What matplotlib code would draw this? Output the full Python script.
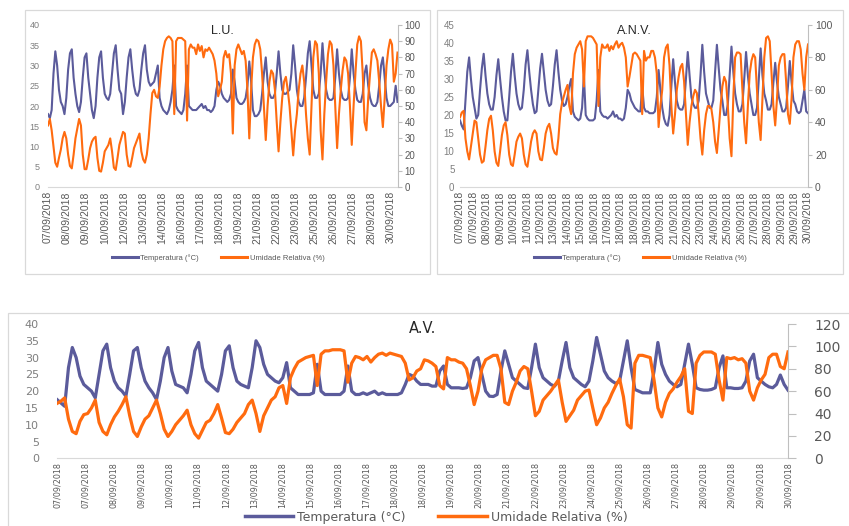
import numpy as np
import matplotlib.pyplot as plt
from matplotlib.patches import Rectangle
from matplotlib.lines import Line2D

W, H = 849, 526
BLUE = "#5b5b9b"
ORANGE = "#ff6b0f"

# readings every 3 h (8 per day), 07/09/2018 -> 30/09/2018
lu_temp = [
    [18, 17, 19, 28, 33.5, 30, 24, 21], [20, 18, 22, 29, 33, 34, 27, 23],
    [20, 18.5, 21, 27, 32, 33, 27, 23], [19, 17, 20, 27, 32, 33.5, 27, 23],
    [22, 21.5, 23, 28, 33, 35, 29, 24], [23, 18, 21, 27, 32, 34, 29, 25],
    [23, 22.5, 24, 29, 33, 35, 29, 26], [25, 25.5, 26, 28, 30, 22, 20, 19],
    [18.5, 18, 19, 21, 24, 30, 20, 19], [18.5, 18, 19, 23, 30, 20, 19.5, 19],
    [19, 19, 19.5, 20, 20.5, 19.5, 20, 19], [19, 18.5, 19, 20, 24, 26, 25, 23],
    [22, 21.5, 21, 21.5, 23, 29, 26, 22], [21, 20.5, 20.5, 21, 22, 25, 31, 26],
    [19, 17.5, 17.5, 18, 19, 23, 28, 32], [26, 23, 22, 22, 23, 28, 33.5, 28],
    [24, 23, 23, 23.5, 24, 28, 35, 30], [24, 21, 20, 20, 22, 27, 33, 36],
    [30, 24, 22, 22, 23, 28, 35.5, 29], [24, 22, 21.5, 21.5, 22, 27, 34, 28],
    [24, 22, 21.5, 21.5, 22, 27, 34, 28], [24, 21.5, 21, 21, 23, 28, 30, 25],
    [22, 20.5, 20, 20, 21, 25, 30, 32], [27, 22, 20, 20, 20.5, 21, 25, 21],
]
lu_rh = [
    [38, 42, 35, 25, 15, 12.5, 18, 23], [30, 34, 30, 20, 13, 11.5, 20, 30],
    [36, 42, 38, 20, 11, 11, 17, 24], [28, 30, 31, 18, 10, 9.5, 15, 22],
    [24, 26, 30, 22, 12, 10.5, 18, 26], [30, 34, 33, 20, 13, 12.5, 18, 24],
    [27, 30, 33, 22, 17, 15, 20, 30], [45, 58, 60, 56, 55, 62, 75, 85],
    [90, 92, 93, 92, 90, 45, 90, 92], [92, 92, 91, 90, 41, 85, 88, 86],
    [86, 82, 88, 84, 87, 80, 85, 84], [86, 84, 82, 78, 70, 56, 60, 65],
    [80, 84, 80, 82, 70, 33, 75, 85], [88, 85, 82, 84, 78, 60, 30, 60],
    [80, 88, 91, 90, 85, 70, 50, 29], [50, 65, 72, 70, 60, 40, 22, 40],
    [55, 65, 68, 60, 50, 35, 19.5, 35], [45, 60, 70, 75, 65, 45, 30, 20],
    [50, 80, 90, 88, 70, 35, 17, 45], [65, 82, 90, 88, 75, 50, 24, 45],
    [60, 72, 80, 78, 70, 50, 26, 50], [70, 88, 93, 90, 70, 40, 35, 55],
    [70, 83, 85, 82, 78, 65, 50, 37], [55, 75, 85, 91, 88, 65, 70, 83],
]
lu_dates = ["07/09/2018", "08/09/2018", "09/09/2018", "10/09/2018", "12/09/2018",
            "13/09/2018", "14/09/2018", "16/09/2018", "17/09/2018", "18/09/2018",
            "19/09/2018", "21/09/2018", "22/09/2018", "23/09/2018", "25/09/2018",
            "26/09/2018", "27/09/2018", "28/09/2018", "30/09/2018"]

anv_temp = [
    [18.5, 17, 16, 24, 32, 36, 30, 25], [22, 19, 20, 27, 33, 37, 31, 26],
    [23, 21.5, 21.5, 25, 31, 35.5, 30, 25], [21, 18.5, 18.5, 25, 32, 37, 31, 26],
    [23, 21.5, 22, 27, 34, 38, 32, 27], [23, 20.5, 21, 27, 33, 37, 32, 27],
    [24, 22.5, 23, 28, 34, 38, 32, 27], [24, 22.5, 23, 25, 28, 30, 21, 19.5],
    [19, 18.5, 19, 22, 31, 20, 19, 18.5], [18.5, 18.5, 19, 24, 32.5, 21, 20, 19.5],
    [19.5, 19, 19.5, 20, 21, 19.5, 20, 19], [19, 18.5, 19, 22, 27, 26, 24, 23],
    [22, 21.5, 21, 21, 28, 22, 21, 21], [20.5, 20.5, 20.5, 21, 25, 32.5, 27, 22],
    [19, 17.5, 17, 20, 28, 35.5, 29, 24], [22, 21.5, 21.5, 23, 30, 37.5, 31, 25],
    [23, 22, 22, 24, 31, 39.5, 32, 26], [24, 22, 22, 24, 32, 39.5, 33, 27],
    [24, 20, 20, 23, 31, 39, 32, 26], [23, 21, 21, 23, 30, 37.5, 31, 26],
    [23, 20, 20, 22, 30, 38.5, 31, 26], [24, 21.5, 21.5, 23, 29, 34.5, 29, 25],
    [23, 21, 21, 22, 28, 35, 29, 24], [23, 21, 20.5, 21, 24, 27, 21, 20.5],
]
anv_rh = [
    [43, 46, 47, 30, 22, 17, 25, 33], [41, 40, 30, 20, 15, 16, 25, 35],
    [42, 44, 35, 22, 15, 13, 22, 32], [38, 40, 32, 20, 14, 13, 20, 28],
    [31, 33, 30, 20, 14, 12.5, 20, 28], [33, 35, 33, 22, 17, 16.5, 24, 33],
    [37, 39, 33, 24, 21, 20, 30, 45], [52, 56, 60, 63, 50, 45, 70, 82],
    [86, 88, 90, 85, 62, 90, 93, 93], [93, 92, 90, 88, 50, 80, 88, 86],
    [86, 88, 84, 87, 85, 88, 90, 86], [88, 89, 86, 80, 62, 68, 75, 82],
    [83, 82, 80, 78, 45, 84, 78, 80], [80, 84, 84, 80, 70, 37, 50, 60],
    [80, 86, 88, 75, 50, 33, 45, 60], [68, 74, 76, 65, 45, 26, 40, 50],
    [56, 60, 58, 45, 30, 20, 35, 45], [50, 50, 48, 40, 28, 21, 35, 50],
    [62, 68, 65, 50, 30, 19, 55, 80], [83, 83, 82, 60, 40, 27, 50, 70],
    [78, 82, 80, 60, 40, 29, 55, 80], [92, 93, 90, 70, 50, 38, 55, 75],
    [80, 82, 82, 65, 45, 39, 55, 80], [88, 90, 90, 85, 70, 60, 80, 88],
]
anv_dates = ["07/09/2018", "07/09/2018", "08/09/2018", "09/09/2018", "10/09/2018",
             "11/09/2018", "12/09/2018", "13/09/2018", "14/09/2018", "15/09/2018",
             "16/09/2018", "17/09/2018", "18/09/2018", "18/09/2018", "19/09/2018",
             "20/09/2018", "21/09/2018", "22/09/2018", "23/09/2018", "24/09/2018",
             "25/09/2018", "26/09/2018", "27/09/2018", "28/09/2018", "29/09/2018",
             "29/09/2018", "30/09/2018"]

av_temp = [
    [17.5, 16.5, 15.5, 27, 33, 30, 24.5, 22], [21, 20, 18, 25, 32, 34, 27, 23],
    [21, 20, 18.5, 25, 32, 33, 27, 23], [21, 19.5, 17.5, 23, 30, 33, 26, 22],
    [21.5, 21, 19.5, 25, 32, 34.5, 27, 23], [22, 21, 20, 25, 32, 33.5, 27, 23],
    [22, 21.5, 21, 27, 35, 33, 28, 25], [24, 23, 22.5, 24, 28.5, 21, 20, 19],
    [19, 19, 19, 19.5, 28, 20, 19, 19], [19, 19, 19, 20, 27.5, 20, 19, 19],
    [19.5, 19, 19.5, 20, 19, 19.5, 19, 19], [19, 19, 19.5, 22, 25, 24.5, 23, 22],
    [22, 22, 21.5, 21.5, 26, 27.5, 22, 21], [21, 21, 20.8, 21, 24, 29, 30, 25],
    [20, 18.5, 18.4, 19, 26, 32, 28, 24], [23, 22, 21, 20.8, 27, 34, 27, 24],
    [23, 22, 21.5, 23, 29, 34.5, 27, 24], [23, 22, 21.3, 23, 29, 36, 31, 26],
    [24, 23, 22.3, 23, 29, 35, 27, 20.5], [20, 19.5, 19.5, 19.5, 26, 34.5, 28, 25],
    [23, 22, 21.3, 22, 28, 34, 28, 21], [20.5, 20.3, 20.3, 20.5, 21, 27, 30.5, 21],
    [21, 20.8, 20.8, 21, 23, 29, 31, 24], [23, 22, 21.3, 21, 22, 24.8, 22, 20.3],
]
av_rh = [
    [49, 51, 54, 35, 24, 22, 33, 39], [40, 45, 52, 32, 24, 21, 30, 37],
    [42, 48, 55, 38, 24, 19.5, 28, 35], [38, 45, 52, 40, 26, 19.5, 24, 30],
    [34, 38, 43, 30, 22, 18, 25, 32], [34, 40, 48, 36, 23, 22, 26, 32],
    [36, 40, 48, 52, 40, 24, 38, 45], [52, 55, 63, 65, 49, 72, 80, 86],
    [88, 90, 91, 92, 65, 93, 96, 96], [97, 97, 97, 96, 68, 85, 91, 90],
    [88, 91, 86, 90, 93, 94, 92, 94], [93, 92, 91, 85, 70, 72, 78, 80],
    [88, 87, 85, 82, 65, 62, 90, 88], [88, 86, 85, 80, 65, 48, 60, 80],
    [88, 90, 92, 92, 80, 50, 48, 60], [68, 78, 82, 80, 60, 38, 42, 52],
    [56, 60, 65, 70, 50, 33, 38, 43], [52, 56, 60, 61, 45, 30, 36, 45],
    [50, 58, 65, 71, 55, 30, 27, 85], [92, 92, 91, 90, 70, 45, 37, 50],
    [58, 62, 68, 73, 80, 42, 40, 85], [92, 95, 95, 95, 93, 70, 52, 90],
    [89, 90, 88, 89, 85, 60, 52, 63], [70, 75, 90, 93, 93, 82, 80, 95],
]
av_dates = anv_dates

temp_label = "Temperatura (°C)"
rh_label = "Umidade Relativa (%)"

fig = plt.figure(figsize=(W / 100, H / 100), dpi=100)


def px_box(x0, y0, x1, y1):
    # pixel box (top-left origin) -> figure fraction
    return [x0 / W, 1 - y1 / H, (x1 - x0) / W, (y1 - y0) / H]


def frame(x0, y0, x1, y1):
    fig.add_artist(Rectangle((x0 / W, 1 - y1 / H), (x1 - x0) / W, (y1 - y0) / H,
                             transform=fig.transFigure, fill=False,
                             ec="#d9d9d9", lw=0.9))


def panel(box, temp, rh, tmax, rmax, rstep, dates, span, title, fam,
          fs_left, fs_right, fs_date, fs_title, lw, lpad, rpad, rlen, title_y):
    ax = fig.add_axes(px_box(*box))
    ax2 = ax.twinx()
    temp = np.ravel(temp)
    rh = np.ravel(rh)
    t = np.arange(len(temp)) / 8
    ax.plot(t, temp, color=BLUE, lw=lw, solid_joinstyle="round")
    ax2.plot(t, rh, color=ORANGE, lw=lw, solid_joinstyle="round")
    ax.set_xlim(0, t[-1])
    ax.set_ylim(0, tmax)
    ax2.set_ylim(0, rmax)

    ax.set_yticks(np.arange(0, tmax + 1, 5))
    ax2.set_yticks(np.arange(0, rmax + 1, rstep))
    ax.set_xticks(np.linspace(0, span, len(dates)))
    ax.set_xticklabels(dates, rotation=90, fontsize=fs_date, family=fam,
                       color="#595959")
    ax.tick_params(axis="x", length=0, pad=3)
    ax.tick_params(axis="y", length=0, pad=lpad, labelsize=fs_left,
                   labelcolor="#7f7f7f")
    ax2.tick_params(axis="y", length=rlen, width=0.8, color="#bfbfbf",
                    pad=rpad, labelsize=fs_right, labelcolor="#595959")
    for lab in ax.get_yticklabels() + ax2.get_yticklabels():
        lab.set_family(fam)

    for s in ["left", "right", "top"]:
        ax.spines[s].set_visible(False)
    ax.spines["bottom"].set_color("#d9d9d9")
    for s in ["left", "top", "bottom"]:
        ax2.spines[s].set_visible(False)
    ax2.spines["right"].set_color("#bfbfbf")

    ax.text(0.5, title_y, title, transform=ax.transAxes, ha="center",
            va="center", fontsize=fs_title, family=fam, color="#262626")
    return ax


def legend(ax, xy, fam, fs, hl, cs, lw):
    handles = [Line2D([], [], color=BLUE, lw=lw), Line2D([], [], color=ORANGE, lw=lw)]
    leg = ax.legend(handles, [temp_label, rh_label], loc="center",
                    bbox_to_anchor=xy, bbox_transform=fig.transFigure, ncol=2,
                    frameon=False, handlelength=hl, columnspacing=cs,
                    handletextpad=0.3, prop={"family": fam, "size": fs})
    for txt in leg.get_texts():
        txt.set_color("#595959")


# frames of the three charts
frame(25, 10, 430, 274)
frame(437, 10, 843, 274)
frame(8, 313, 860, 540)

sans = "Liberation Sans"

ax1 = panel((48, 25, 397.5, 187), lu_temp, lu_rh, 40, 100, 10, lu_dates, 23.4,
            "L.U.", sans, 6.5, 7, 7.5, 9, 1.5, 6, 2, 3, 0.96)
legend(ax1, (218 / W, 1 - 258 / H), sans, 5.5, 3.4, 3.0, 2.2)

ax2 = panel((460, 25, 808, 187), anv_temp, anv_rh, 45, 100, 20, anv_dates, 23.875,
            "A.N.V.", sans, 7, 7.5, 7.5, 9, 1.5, 4, 2, 3, 0.96)
legend(ax2, (640 / W, 1 - 258 / H), sans, 5.5, 3.4, 3.0, 2.2)

ax3 = panel((57, 324, 788, 458.3), av_temp, av_rh, 40, 120, 20, av_dates, 23.875,
            "A.V.", "DejaVu Sans", 8, 10, 5.8, 10.5, 2.3, 13, 13, 6, 0.965)
legend(ax3, (436 / W, 1 - 517 / H), "DejaVu Sans", 9, 3.9, 2.6, 2.5)

fig.savefig("out.png", dpi=100)
